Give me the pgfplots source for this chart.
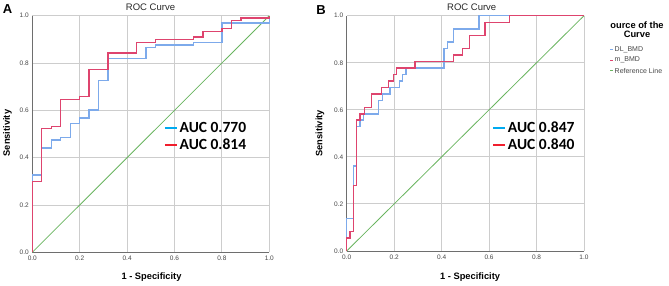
\documentclass[border=0pt]{standalone}
\usepackage{pgfplots}
\pgfplotsset{compat=1.18}
\usepackage{fontspec}
\setmainfont{Liberation Sans}
\newfontfamily\carlito{Carlito}
\definecolor{dlblue}{RGB}{125,170,235}
\definecolor{mred}{RGB}{222,68,110}
\definecolor{refgreen}{RGB}{105,180,95}
\definecolor{legblue}{RGB}{0,170,240}
\definecolor{legred}{RGB}{240,30,45}
\definecolor{gridgray}{RGB}{205,205,205}
\definecolor{axgray}{RGB}{110,110,110}
\definecolor{ticktext}{RGB}{70,70,70}
\pgfplotsset{rocaxis/.style={
  scale only axis, xmin=0, xmax=1, ymin=0, ymax=1, clip=false,
  xtick={0,0.2,0.4,0.6,0.8,1}, ytick={0,0.2,0.4,0.6,0.8,1},
  grid=major, major grid style={gridgray, line width=0.9pt},
  axis x line*=bottom, axis y line*=left,
  axis line style={axgray, line width=0.9pt, -},
  major tick length=0pt,
  tick label style={font=\fontsize{6.5}{7}\selectfont, text=ticktext},
  /pgf/number format/fixed, /pgf/number format/fixed zerofill,
  /pgf/number format/precision=1, /pgf/number format/assume math mode=true,
  xlabel style={font=\bfseries\fontsize{9.3}{11}\selectfont},
  ylabel style={font=\bfseries\fontsize{9.3}{11}\selectfont},
  legend style={draw=none, fill=none, inner sep=0pt, row sep=1pt,
    font=\carlito\bfseries\fontsize{15.5}{18}\selectfont},
  legend cell align=left,
  legend image code/.code={\draw[#1, line width=1.6pt] (0pt,0pt) -- (12pt,0pt);},
}}
\begin{document}
\begin{tikzpicture}
\useasboundingbox (0pt,0pt) rectangle (669pt,-285pt);
% ---------------- Panel A ----------------
\begin{axis}[rocaxis, at={(32.3pt,-252.3pt)}, anchor=south west,
  width=237pt, height=236.6pt,
  xlabel={1 - Specificity}, xlabel style={at={(axis description cs:0.503,-0.104)}, anchor=center},
  ylabel={Sensitivity}, ylabel style={at={(axis description cs:-0.105,0.504)}, anchor=center},
  legend style={at={(axis description cs:0.555,0.49)}, anchor=west}]
\addplot[refgreen, line width=0.8pt, forget plot] coordinates {(0,0) (1,1)};
\addplot[dlblue, line width=1.4pt, forget plot] coordinates {
(0,0) (0,0.327) (0.04,0.327) (0.04,0.441) (0.08,0.441) (0.08,0.475) (0.12,0.475)
(0.12,0.486) (0.16,0.486) (0.16,0.544) (0.20,0.544) (0.20,0.568) (0.24,0.568)
(0.24,0.601) (0.28,0.601) (0.28,0.727) (0.32,0.727) (0.32,0.818) (0.48,0.818)
(0.48,0.866) (0.52,0.866) (0.52,0.877) (0.68,0.877) (0.68,0.887) (0.80,0.887)
(0.80,0.97) (1,0.97) (1,1)};
\addplot[mred, line width=1.4pt, forget plot] coordinates {
(0,0) (0,0.299) (0.04,0.299) (0.04,0.523) (0.08,0.523) (0.08,0.532) (0.12,0.532)
(0.12,0.646) (0.20,0.646) (0.20,0.658) (0.24,0.658) (0.24,0.773) (0.32,0.773)
(0.32,0.842) (0.44,0.842) (0.44,0.887) (0.52,0.887) (0.52,0.899) (0.68,0.899)
(0.68,0.91) (0.72,0.91) (0.72,0.932) (0.80,0.932) (0.80,0.946) (0.84,0.946)
(0.84,0.98) (0.88,0.98) (0.88,0.99) (1,0.99) (1,1)};
\addlegendimage{legblue}
\addlegendentry{AUC 0.770}
\addlegendimage{legred}
\addlegendentry{AUC 0.814}
\end{axis}
% ---------------- Panel B ----------------
\begin{axis}[rocaxis, at={(346.7pt,-251pt)}, anchor=south west,
  width=237.3pt, height=235.3pt,
  xlabel={1 - Specificity}, xlabel style={at={(axis description cs:0.52,-0.11)}, anchor=center},
  ylabel={Sensitivity}, ylabel style={at={(axis description cs:-0.1125,0.50)}, anchor=center},
  legend style={at={(axis description cs:0.613,0.487)}, anchor=west}]
\addplot[refgreen, line width=0.8pt, forget plot] coordinates {(0,0) (1,1)};
\addplot[dlblue, line width=1.4pt, forget plot] coordinates {
(0,0) (0,0.139) (0.028,0.139) (0.028,0.361) (0.042,0.361) (0.042,0.528) (0.056,0.528)
(0.056,0.556) (0.07,0.556) (0.07,0.583) (0.133,0.583) (0.133,0.639) (0.15,0.639)
(0.15,0.667) (0.183,0.667) (0.183,0.694) (0.222,0.694) (0.222,0.722) (0.236,0.722)
(0.236,0.75) (0.25,0.75) (0.25,0.778) (0.41,0.778) (0.41,0.861) (0.424,0.861)
(0.424,0.889) (0.449,0.889) (0.449,0.944) (0.557,0.944) (0.557,1) (1,1)};
\addplot[mred, line width=1.4pt, forget plot] coordinates {
(0,0) (0,0.056) (0.014,0.056) (0.014,0.083) (0.028,0.083) (0.028,0.278) (0.042,0.278)
(0.042,0.556) (0.056,0.556) (0.056,0.583) (0.076,0.583) (0.076,0.611) (0.105,0.611)
(0.105,0.667) (0.147,0.667) (0.147,0.694) (0.175,0.694) (0.175,0.722) (0.197,0.722)
(0.197,0.75) (0.21,0.75) (0.21,0.778) (0.288,0.778) (0.288,0.806) (0.449,0.806)
(0.449,0.833) (0.489,0.833) (0.489,0.861) (0.517,0.861) (0.517,0.917) (0.583,0.917)
(0.583,0.972) (0.685,0.972) (0.685,1) (1,1)};
\addlegendimage{legblue}
\addlegendentry{AUC 0.847}
\addlegendimage{legred}
\addlegendentry{AUC 0.840}
\end{axis}
% titles
\node[font=\fontsize{9.5}{11}\selectfont, text=black!85] at (150.5pt,-6.8pt) {ROC Curve};
\node[font=\fontsize{9.5}{11}\selectfont, text=black!85] at (471.7pt,-6.8pt) {ROC Curve};
% panel letters
\node[font=\bfseries\fontsize{13}{15}\selectfont] at (7.5pt,-9pt) {A};
\node[font=\bfseries\fontsize{13}{15}\selectfont] at (321pt,-10pt) {B};
% outer (SPSS) legend
\node[font=\bfseries\fontsize{9.3}{11}\selectfont] at (637pt,-25pt) {ource of the};
\node[font=\bfseries\fontsize{9.3}{11}\selectfont] at (637pt,-34pt) {Curve};
\draw[dlblue, line width=0.8pt] (610pt,-49.7pt) -- (613pt,-49.7pt);
\draw[mred, line width=0.8pt] (610pt,-60.2pt) -- (613pt,-60.2pt);
\draw[refgreen, line width=0.8pt] (610pt,-70.5pt) -- (613pt,-70.5pt);
\node[anchor=west, inner sep=0pt, font=\fontsize{7}{8}\selectfont, text=ticktext] at (614.5pt,-49.7pt) {DL\_BMD};
\node[anchor=west, inner sep=0pt, font=\fontsize{7}{8}\selectfont, text=ticktext] at (614.5pt,-60.2pt) {m\_BMD};
\node[anchor=west, inner sep=0pt, font=\fontsize{7}{8}\selectfont, text=ticktext] at (614.5pt,-70.5pt) {Reference Line};
\end{tikzpicture}
\end{document}
